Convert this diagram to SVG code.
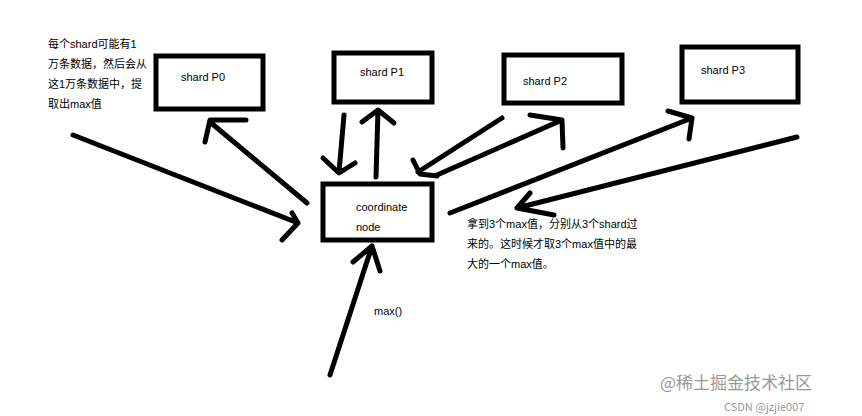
<svg xmlns="http://www.w3.org/2000/svg" width="862" height="416" viewBox="0 0 862 416">
<style>
.box{fill:#fff;stroke:#000;stroke-width:5}
.t{font-family:"Liberation Sans","Noto Sans CJK SC",sans-serif;font-size:11px;fill:#000}
.n{font-family:"Liberation Sans","Noto Sans CJK SC",sans-serif;font-size:11px;fill:#000}
.c{fill:none;stroke:#000;stroke-width:5;stroke-linecap:round;stroke-linejoin:round}
.w{font-family:"Noto Sans CJK SC",sans-serif;fill:#999}
</style>
<rect width="862" height="416" fill="#fff"/>
<g id="p0"><rect class="box" x="156" y="56" width="107" height="53"/><text class="t" x="181" y="81">shard P0</text></g>
<g id="p1"><rect class="box" x="334" y="53" width="98" height="49"/><text class="t" x="360" y="76">shard P1</text></g>
<g id="p2"><rect class="box" x="504" y="55" width="118" height="48"/><text class="t" x="523" y="85">shard P2</text></g>
<g id="p3"><rect class="box" x="682" y="47" width="116" height="55"/><text class="t" x="701" y="74">shard P3</text></g>
<g id="coord"><rect class="box" x="323" y="184" width="109" height="56"/><text class="t" x="356" y="211">coordinate</text><text class="t" x="356" y="231">node</text></g>
<g id="connectors">
<path class="c" d="M73,135 L298,223 M292,213 L298,223 L282,240"/>
<path class="c" d="M307,203 L210,122 M246,120 L210,120 L205,142"/>
<path class="c" d="M344,115 L339,172 M323,158 L339,173 L355,163"/>
<path class="c" d="M376,177 L378,110 M362,122 L378,110 L394,123"/>
<path class="c" d="M502,118 L418,172 M413,160 L420,174 L437,176"/>
<path class="c" d="M437,175 L562,120 M530,115 L562,120 L563,148"/>
<path class="c" d="M450,213 L692,118 M668,111 L692,118 L689,139"/>
<path class="c" d="M797,137 L517,208 M530,193 L517,208 L554,215"/>
<path class="c" d="M330,375 L372,246 M353,262 L372,246 L380,271"/>
</g>
<g id="notes">
<text class="n" x="48" y="48">每个shard可能有1</text>
<text class="n" x="48" y="68">万条数据，然后会从</text>
<text class="n" x="48" y="88">这1万条数据中，提</text>
<text class="n" x="48" y="108">取出max值</text>
<text class="n" x="467" y="228">拿到3个max值，分别从3个shard过</text>
<text class="n" x="467" y="248">来的。这时候才取3个max值中的最</text>
<text class="n" x="467" y="268">大的一个max值。</text>
<text class="n" x="374" y="315">max()</text>
<text class="w" x="660" y="389" font-size="17">@稀土掘金技术社区</text>
<text class="w" x="724" y="411" font-size="11">CSDN @jzjie007</text>
</g>
</svg>
